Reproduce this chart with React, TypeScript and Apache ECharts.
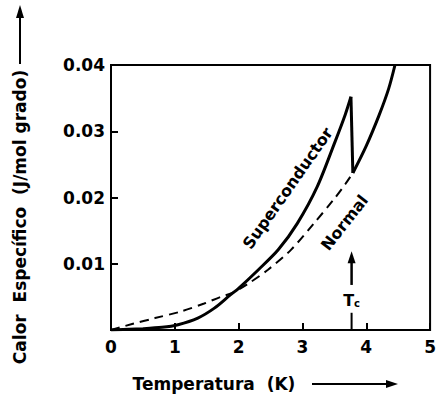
import React, { useEffect, useRef } from 'react';
import * as echarts from 'echarts';

// Axis ranges / ticks
const xMin = 0, xMax = 5, xStep = 1;
const yMin = 0, yMax = 0.04, yStep = 0.01;

// Superconductor branch (T in K, C in J/mol·grado)
const superT = [0, 0.5, 0.8, 1.05, 1.36, 1.62, 1.87, 2.0, 2.31, 2.62, 2.92, 3.23, 3.51, 3.67, 3.76];
const superC = [0, 0.0002, 0.0004, 0.0008, 0.0018, 0.0033, 0.0053, 0.0063, 0.0091, 0.0121, 0.0161, 0.0216, 0.0284, 0.0325, 0.0352];

// Jump at Tc
const jumpT = [3.76, 3.79];
const jumpC = [0.0352, 0.0237];

// Normal state above Tc (solid)
const normalHighT = [3.79, 4.0, 4.2, 4.35, 4.45];
const normalHighC = [0.0237, 0.0278, 0.0324, 0.0364, 0.04];

// Normal state extrapolated below Tc (dashed)
const normalLowT = [0, 0.33, 0.69, 1.1, 1.46, 1.72, 1.9, 2.15, 2.46, 2.82, 3.18, 3.49, 3.67, 3.79];
const normalLowC = [0, 0.0009, 0.0018, 0.0028, 0.004, 0.005, 0.0056, 0.007, 0.0091, 0.0121, 0.0161, 0.0197, 0.022, 0.0237];

// Annotation anchors (data units)
const superLabel = { text: 'Superconductor', t: 2.77, c: 0.0214, angle: 55 };
const normalLabel = { text: 'Normal', t: 3.66, c: 0.0162, angle: 52 };
const tcT = 3.77;
const tcArrowC = [0.0116, 0.0068];
const tcLabelC = 0.0045;
const tcTailC = [0.0026, 0.0];

const xTitle = 'Temperatura  (K)';
const yTitle = 'Calor  Específico  (J/mol grado)';

const zip = (a: number[], b: number[]) => a.map((v, i) => [v, b[i]]);

export default function App() {
  const ref = useRef<HTMLDivElement>(null);
  useEffect(() => {
    const chart = echarts.init(ref.current!, null, { renderer: 'svg' });
    const font = 'DejaVu Sans';
    const black = '#000';
    const solid = { color: black, width: 3 };
    const axisCommon = {
      axisLine: { show: true, lineStyle: { color: black, width: 2 } },
      axisTick: { show: true, inside: true, length: 7, lineStyle: { color: black, width: 2 } },
      splitLine: { show: false },
    };
    chart.setOption({
      animation: false,
      backgroundColor: '#fff',
      grid: { left: 111, right: 4, top: 65, bottom: 66, show: true, borderColor: black, borderWidth: 2, backgroundColor: 'transparent' },
      xAxis: {
        type: 'value', min: xMin, max: xMax, interval: xStep,
        ...axisCommon,
        axisLabel: { color: black, fontFamily: font, fontWeight: 'bold', fontSize: 17, margin: 8 },
      },
      yAxis: {
        type: 'value', min: yMin, max: yMax, interval: yStep,
        ...axisCommon,
        axisLabel: {
          color: black, fontFamily: font, fontWeight: 'bold', fontSize: 17, margin: 6,
          formatter: (v: number) => (v === 0 ? '' : v.toFixed(2)),
        },
      },
      series: [
        { type: 'line', data: zip(superT, superC), symbol: 'none', smooth: 0.3, lineStyle: solid },
        { type: 'line', data: zip(jumpT, jumpC), symbol: 'none', lineStyle: solid },
        { type: 'line', data: zip(normalHighT, normalHighC), symbol: 'none', smooth: 0.3, lineStyle: solid },
        { type: 'line', data: zip(normalLowT, normalLowC), symbol: 'none', smooth: 0.3, lineStyle: { color: black, width: 2, type: [9, 6] } },
      ],
    });

    const px = (t: number, c: number) => chart.convertToPixel({ gridIndex: 0 }, [t, c]) as number[];
    const sp = px(superLabel.t, superLabel.c);
    const np = px(normalLabel.t, normalLabel.c);
    const a0 = px(tcT, tcArrowC[0]);
    const a1 = px(tcT, tcArrowC[1]);
    const tl = px(tcT, tcLabelC);
    const t0 = px(tcT, tcTailC[0]);
    const t1 = px(tcT, tcTailC[1]);
    const textStyle = { fill: black, font: `bold 16px "${font}"`, align: 'center', verticalAlign: 'middle' };

    chart.setOption({
      graphic: [
        { type: 'text', x: sp[0], y: sp[1], rotation: (superLabel.angle * Math.PI) / 180, style: { ...textStyle, text: superLabel.text } },
        { type: 'text', x: np[0], y: np[1], rotation: (normalLabel.angle * Math.PI) / 180, style: { ...textStyle, text: normalLabel.text } },
        { type: 'line', shape: { x1: a0[0], y1: a0[1] + 6, x2: a1[0], y2: a1[1] }, style: { stroke: black, lineWidth: 2.5 } },
        { type: 'polygon', shape: { points: [[a0[0], a0[1] - 2], [a0[0] - 4, a0[1] + 10], [a0[0] + 4, a0[1] + 10]] }, style: { fill: black } },
        {
          type: 'text', x: tl[0], y: tl[1],
          style: {
            text: '{t|T}{c|c}', align: 'center', verticalAlign: 'middle',
            rich: {
              t: { fontFamily: font, fontWeight: 'bold', fontSize: 16, fill: black },
              c: { fontFamily: font, fontWeight: 'bold', fontSize: 10, fill: black, padding: [7, 0, 0, 0] },
            },
          },
        },
        { type: 'line', shape: { x1: t0[0], y1: t0[1], x2: t1[0], y2: t1[1] }, style: { stroke: black, lineWidth: 2 } },
        // x-axis title with arrow
        { type: 'text', x: 214, y: 384, style: { ...textStyle, font: `bold 17px "${font}"`, text: xTitle } },
        { type: 'line', shape: { x1: 312, y1: 384, x2: 390, y2: 384 }, style: { stroke: black, lineWidth: 2 } },
        { type: 'polygon', shape: { points: [[398, 384], [386, 380], [386, 388]] }, style: { fill: black } },
        // y-axis title with arrow
        { type: 'text', x: 20, y: 217, rotation: Math.PI / 2, style: { ...textStyle, font: `bold 17px "${font}"`, text: yTitle } },
        { type: 'line', shape: { x1: 20, y1: 64, x2: 20, y2: 16 }, style: { stroke: black, lineWidth: 2 } },
        { type: 'polygon', shape: { points: [[20, 5], [16, 18], [24, 18]] }, style: { fill: black } },
      ],
    });
    return () => chart.dispose();
  }, []);
  return <div ref={ref} style={{ position: 'fixed', left: 0, top: 0, width: 439, height: 396 }} />;
}
